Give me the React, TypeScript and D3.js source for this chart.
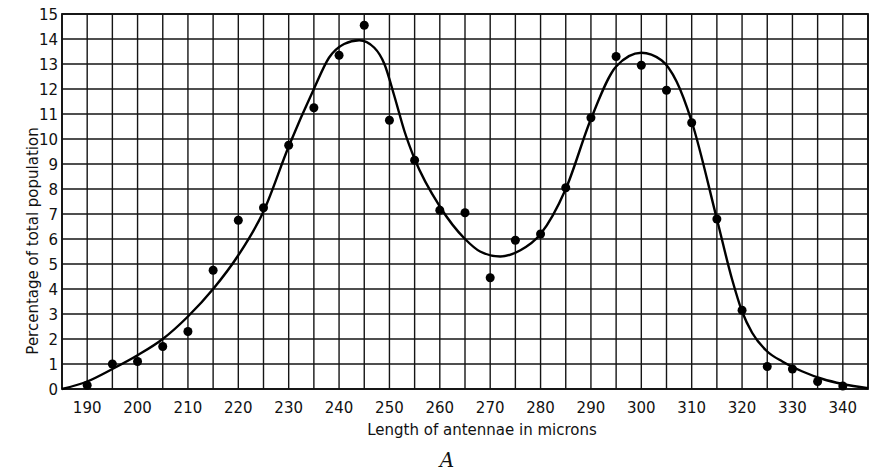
import React from "react";
import * as d3 from "d3";

const lengths = [190, 195, 200, 205, 210, 215, 220, 225, 230, 235, 240, 245, 250, 255, 260, 265, 270, 275, 280, 285, 290, 295, 300, 305, 310, 315, 320, 325, 330, 335, 340];
const percents = [0.15, 1.0, 1.1, 1.7, 2.3, 4.75, 6.75, 7.25, 9.75, 11.25, 13.35, 14.55, 10.75, 9.15, 7.15, 7.05, 4.45, 5.95, 6.2, 8.05, 10.85, 13.3, 12.95, 11.95, 10.65, 6.8, 3.15, 0.9, 0.8, 0.3, 0.12];

const curveX = [185, 190, 195, 200, 205, 210, 215, 220, 225, 230, 235, 238, 241, 244, 247, 249, 251, 253, 255, 260, 265, 268, 272, 276, 280, 285, 290, 295, 300, 304, 307, 310, 315, 318, 320, 322, 325, 328, 332, 336, 340, 345];
const curveY = [0, 0.3, 0.8, 1.35, 2.0, 2.9, 4.0, 5.35, 7.1, 9.7, 12.0, 13.25, 13.8, 13.95, 13.65, 13.0, 11.7, 10.3, 9.2, 7.3, 6.0, 5.5, 5.3, 5.55, 6.2, 8.0, 10.8, 12.9, 13.45, 13.15, 12.3, 10.7, 6.8, 4.4, 3.1, 2.25, 1.5, 1.1, 0.7, 0.4, 0.2, 0.03];

const xTicks = [190, 200, 210, 220, 230, 240, 250, 260, 270, 280, 290, 300, 310, 320, 330, 340];
const yTicks = [0, 1, 2, 3, 4, 5, 6, 7, 8, 9, 10, 11, 12, 13, 14, 15];

const W = 873;
const H = 471;
const FONT = "'DejaVu Sans', sans-serif";

export default function App() {
  const x = d3.scaleLinear().domain([185, 345]).range([62, 868]);
  const y = d3.scaleLinear().domain([0, 15]).range([389, 14]);
  const vGrid = d3.range(185, 345.1, 5);
  const hGrid = d3.range(0, 15.1, 1);
  const line = d3
    .line<number>()
    .x((d, i) => x(curveX[i]))
    .y((d) => y(d))
    .curve(d3.curveMonotoneX);

  return (
    <svg width={W} height={H} style={{ position: "absolute", left: 0, top: 0, background: "#fff" }}>
      <rect x={0} y={0} width={W} height={H} fill="#fff" />
      <g stroke="#151515" strokeWidth={1.4}>
        {vGrid.map((v) => (
          <line key={"v" + v} x1={x(v)} x2={x(v)} y1={y(15)} y2={y(0)} />
        ))}
        {hGrid.map((v) => (
          <line key={"h" + v} x1={x(185)} x2={x(345)} y1={y(v)} y2={y(v)} />
        ))}
      </g>
      <rect x={x(185)} y={y(15)} width={x(345) - x(185)} height={y(0) - y(15)} fill="none" stroke="#111" strokeWidth={1.8} />
      <path d={line(curveY) || ""} fill="none" stroke="#000" strokeWidth={2.4} />
      {lengths.map((l, i) => (
        <circle key={"p" + l} cx={x(l)} cy={y(percents[i])} r={4.5} fill="#000" />
      ))}
      <g fontFamily={FONT} fontSize={15} fill="#111">
        {xTicks.map((t) => (
          <text key={"xt" + t} x={x(t)} y={413} textAnchor="middle">
            {t}
          </text>
        ))}
        {yTicks.map((t) => (
          <text key={"yt" + t} x={58} y={y(t) + 5.5} textAnchor="end">
            {t}
          </text>
        ))}
        <text x={482} y={435} textAnchor="middle">
          Length of antennae in microns
        </text>
        <text transform={`translate(38,241) rotate(-90)`} textAnchor="middle">
          Percentage of total population
        </text>
      </g>
      <text x={447} y={467} textAnchor="middle" fontFamily="'DejaVu Serif', serif" fontStyle="italic" fontSize={20} fill="#111">
        A
      </text>
    </svg>
  );
}
